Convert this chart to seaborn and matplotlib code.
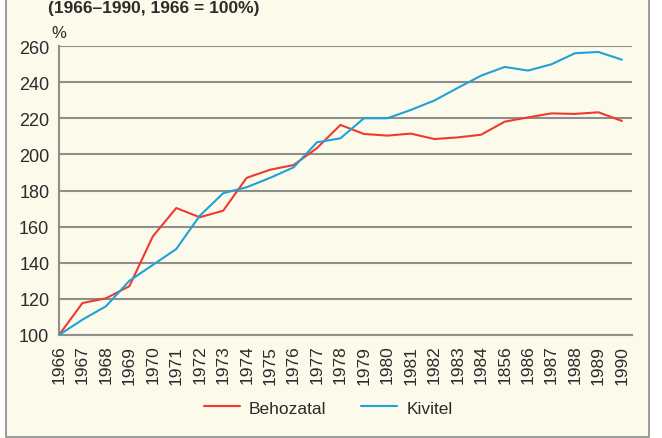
import matplotlib
matplotlib.use("Agg")
import matplotlib.pyplot as plt
from matplotlib.patches import Rectangle
import seaborn as sns
import pandas as pd

years = list(range(1966, 1991))
tick_labels = ["1966", "1967", "1968", "1969", "1970", "1971", "1972", "1973",
               "1974", "1975", "1976", "1977", "1978", "1979", "1980", "1981",
               "1982", "1983", "1984", "1856", "1986", "1987", "1988", "1989", "1990"]
behozatal = [100, 117.7, 120.3, 127, 154.6, 170.3, 165.2, 168.8, 187, 191.5, 194.1,
             203.5, 216.3, 211.3, 210.4, 211.5, 208.5, 209.4, 210.9, 218.1, 220.5,
             222.7, 222.4, 223.3, 218.5]
kivitel = [100, 108.5, 115.9, 130, 138.8, 147.6, 166, 178.5, 181.8, 187, 192.8,
           206.7, 208.9, 220, 220, 224.6, 229.8, 236.8, 243.6, 248.4, 246.4,
           249.9, 256, 256.7, 252.4]
series_names = ["Behozatal", "Kivitel"]
colors = ["#EE3B2F", "#1FA2D6"]
yticks = [100, 120, 140, 160, 180, 200, 220, 240, 260]
title = "(1966–1990, 1966 = 100%)"

df = pd.DataFrame({
    "year": years * 2,
    "value": behozatal + kivitel,
    "series": [series_names[0]] * len(years) + [series_names[1]] * len(years),
})

sns.set_theme(style="white")
plt.rcParams["font.family"] = ["Liberation Sans Narrow", "Liberation Sans", "DejaVu Sans"]

cream = "#FCFAEA"
grid_c = "#8E8E8A"
text_c = "#2B2B2B"

fig = plt.figure(figsize=(6.62, 4.39), dpi=100, facecolor="white")
fig.patches.append(Rectangle((6 / 662, 1 - 437.5 / 439), (649 - 6) / 662, 437.5 / 439 + 0.02,
                             transform=fig.transFigure, facecolor=cream,
                             edgecolor="#8A8A8A", linewidth=1.2, zorder=-5))
ax = fig.add_axes([59 / 662, 1 - 336 / 439, (632 - 59) / 662, (336 - 47) / 439])
ax.set_zorder(2)
ax.patch.set_alpha(0)

sns.lineplot(data=df, x="year", y="value", hue="series", palette=colors,
             linewidth=1.5, ax=ax, legend=True, zorder=3)

ax.set_xlim(1966, 1990.43)
ax.set_ylim(100, 260)
ax.set_yticks(yticks)
ax.set_yticklabels([str(v) for v in yticks], fontsize=13, color=text_c)
ax.set_xticks(years)
ax.set_xticklabels(tick_labels, rotation=90, fontsize=12.5, color=text_c)
ax.set_xlabel("")
ax.set_ylabel("")
ax.yaxis.grid(True, color=grid_c, linewidth=1.5, zorder=1)
ax.xaxis.grid(False)
ax.set_axisbelow(True)
for s in ["top", "right"]:
    ax.spines[s].set_visible(False)
for s in ["left", "bottom"]:
    ax.spines[s].set_color(grid_c)
    ax.spines[s].set_linewidth(1.5)
ax.tick_params(axis="y", direction="out", length=6, width=1.2, color=grid_c, pad=1)
ax.tick_params(axis="x", direction="out", length=5, width=1.2, color=grid_c, pad=2)

ax.text(0.0, 1.0 + 14 / 289, "%", transform=ax.transAxes, ha="center", va="center",
        fontsize=12, color=text_c)

fig.text(48 / 662, 1 - 9 / 439, title, ha="left", va="center",
         fontsize=12.5, fontweight="bold", color=text_c,
         family=["Liberation Sans", "DejaVu Sans"])

handles, labels = ax.get_legend_handles_labels()
ax.legend_.remove()
fig.legend(handles, labels, loc="center", bbox_to_anchor=(328 / 662, 1 - 409 / 439),
           ncol=2, frameon=False, fontsize=12.5, handlelength=2.1, handletextpad=0.5,
           columnspacing=2.0, labelcolor=text_c)

fig.savefig("out.png", dpi=100, facecolor="white")
